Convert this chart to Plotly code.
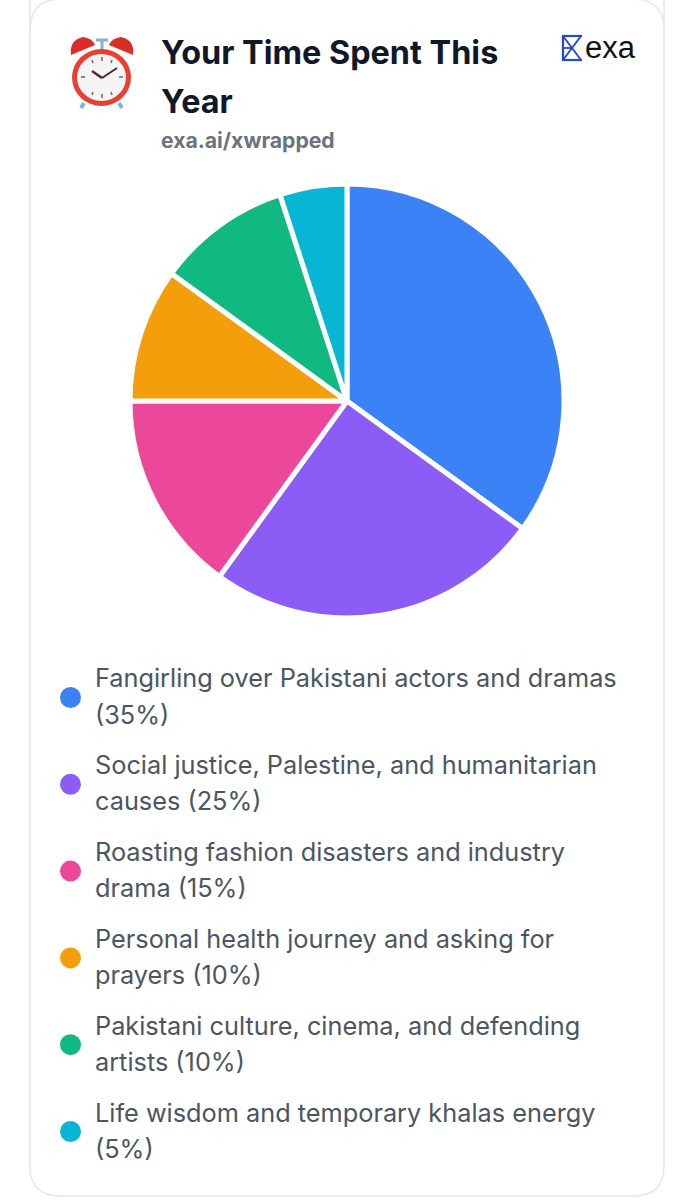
import plotly.graph_objects as go

W, H = 694, 1200

categories = ["Fangirling over Pakistani actors and dramas", "Social justice, Palestine, and humanitarian causes",
              "Roasting fashion disasters and industry drama", "Personal health journey and asking for prayers",
              "Pakistani culture, cinema, and defending artists", "Life wisdom and temporary khalas energy"]
values = [35, 25, 15, 10, 10, 5]
colors = ["#3b82f6", "#8b5cf6", "#ec4899", "#f59e0b", "#10b981", "#06b6d4"]
legend_lines = [("Fangirling over Pakistani actors and dramas", "(35%)"),
                ("Social justice, Palestine, and humanitarian", "causes (25%)"),
                ("Roasting fashion disasters and industry", "drama (15%)"),
                ("Personal health journey and asking for", "prayers (10%)"),
                ("Pakistani culture, cinema, and defending", "artists (10%)"),
                ("Life wisdom and temporary khalas energy", "(5%)")]

def px(x):
    return x / W

def py(y):
    return 1 - y / H

def text(x, y, s, size, color, family="Inter", xanchor="left"):
    return dict(x=px(x), y=py(y), text=s, xref="paper", yref="paper", xanchor=xanchor, yanchor="middle",
                showarrow=False, align="left", font=dict(family=family, size=size, color=color))

def circle(x0, y0, x1, y1, fill, line=None, width=0):
    return dict(type="circle", xref="paper", yref="paper", x0=px(x0), x1=px(x1), y0=py(y0), y1=py(y1),
                fillcolor=fill, line=dict(color=line or fill, width=width))

def seg(x0, y0, x1, y1, color, width):
    return dict(type="line", xref="paper", yref="paper", x0=px(x0), x1=px(x1), y0=py(y0), y1=py(y1),
                line=dict(color=color, width=width))

fig = go.Figure(go.Pie(labels=categories, values=values, sort=False, direction="clockwise", rotation=0,
                       marker=dict(colors=colors, line=dict(color="white", width=5)),
                       textinfo="none", showlegend=False,
                       domain=dict(x=[px(130), px(564)], y=[py(618), py(184)])))

# card outline, corners drawn in paper coordinates
r = 30
l, t, rt, b = 30, -10, 664, 1196
card = (f"M {px(l)} {py(t)} L {px(l)} {py(b - r)} Q {px(l)} {py(b)} {px(l + r)} {py(b)} "
        f"L {px(rt - r)} {py(b)} Q {px(rt)} {py(b)} {px(rt)} {py(b - r)} L {px(rt)} {py(t)}")
shapes = [dict(type="path", xref="paper", yref="paper", path=card, line=dict(color="#e5e7eb", width=1.5), layer="below")]
shapes += [dict(type="path", xref="paper", yref="paper", layer="below", line=dict(color="#e5e7eb", width=1.5),
                path=f"M {px(l)} {py(r)} Q {px(l)} {py(0)} {px(l + r)} {py(-1)} L {px(rt - r)} {py(-1)} Q {px(rt)} {py(0)} {px(rt)} {py(r)}")]

# alarm clock icon
shapes += [seg(84, 103, 81, 108, "#7fb5cc", 4), seg(119, 103, 122, 108, "#7fb5cc", 4),
           seg(102, 40, 102, 50, "#7fb5cc", 3), seg(96, 40, 108, 40, "#7fb5cc", 3),
           dict(type="path", xref="paper", yref="paper", fillcolor="#d92d27", line=dict(color="#d92d27", width=0),
                path=f"M {px(71)} {py(55)} Q {px(69)} {py(40)} {px(83)} {py(37)} Q {px(92)} {py(38)} {px(95)} {py(45)} Z"),
           dict(type="path", xref="paper", yref="paper", fillcolor="#d92d27", line=dict(color="#d92d27", width=0),
                path=f"M {px(133)} {py(55)} Q {px(135)} {py(40)} {px(121)} {py(37)} Q {px(112)} {py(38)} {px(109)} {py(45)} Z"),
           circle(72, 49, 131, 106, "#e8402f"),
           circle(77, 54, 126, 101, "#f5f5f7")]
for x0, y0, x1, y1 in [(102, 57, 102, 61), (102, 94, 102, 98), (81, 77, 85, 77), (119, 77, 123, 77),
                       (92, 60, 93, 63), (112, 60, 111, 63), (92, 95, 93, 92), (112, 95, 111, 92)]:
    shapes.append(seg(x0, y0, x1, y1, "#8a5a50", 1.5))
shapes += [seg(102, 78, 92, 71, "#4a2a22", 2.5), seg(102, 78, 117, 68, "#4a2a22", 2)]

# exa logo mark
blue = "#2546d0"
shapes += [seg(562, 36, 582, 36, blue, 2.2), seg(562, 60, 582, 60, blue, 2.2), seg(563, 36, 563, 60, blue, 2.2),
           seg(563, 36, 581, 60, blue, 1.8), seg(581, 36, 563, 60, blue, 1.8), seg(563, 48, 572, 48, blue, 1.8)]

annotations = [text(158.5, 52, "<b>Your Time Spent This</b>", 32.4, "#111827"),
               text(158.5, 101, "<b>Year</b>", 32.4, "#111827"),
               text(159, 140, "<b>exa.ai/xwrapped</b>", 21.2, "#6b7280"),
               text(583, 47, "exa", 31, "#111111", family="Liberation Sans")]

# legend rows: dot plus two lines of text, about 87px apart
for i, (c, lines) in enumerate(zip(colors, legend_lines)):
    y = 678 + 86.8 * i
    shapes.append(circle(60, y + 9, 81, y + 30, c))
    annotations.append(text(93, y, lines[0], 25.3, "#4b5563"))
    annotations.append(text(93, y + 36, lines[1], 25.3, "#4b5563"))

fig.update_layout(width=W, height=H, margin=dict(l=0, r=0, t=0, b=0), paper_bgcolor="white",
                  shapes=shapes, annotations=annotations)

fig.write_html("out.html", config=dict(displayModeBar=False), post_script="document.body.style.margin='0';")
